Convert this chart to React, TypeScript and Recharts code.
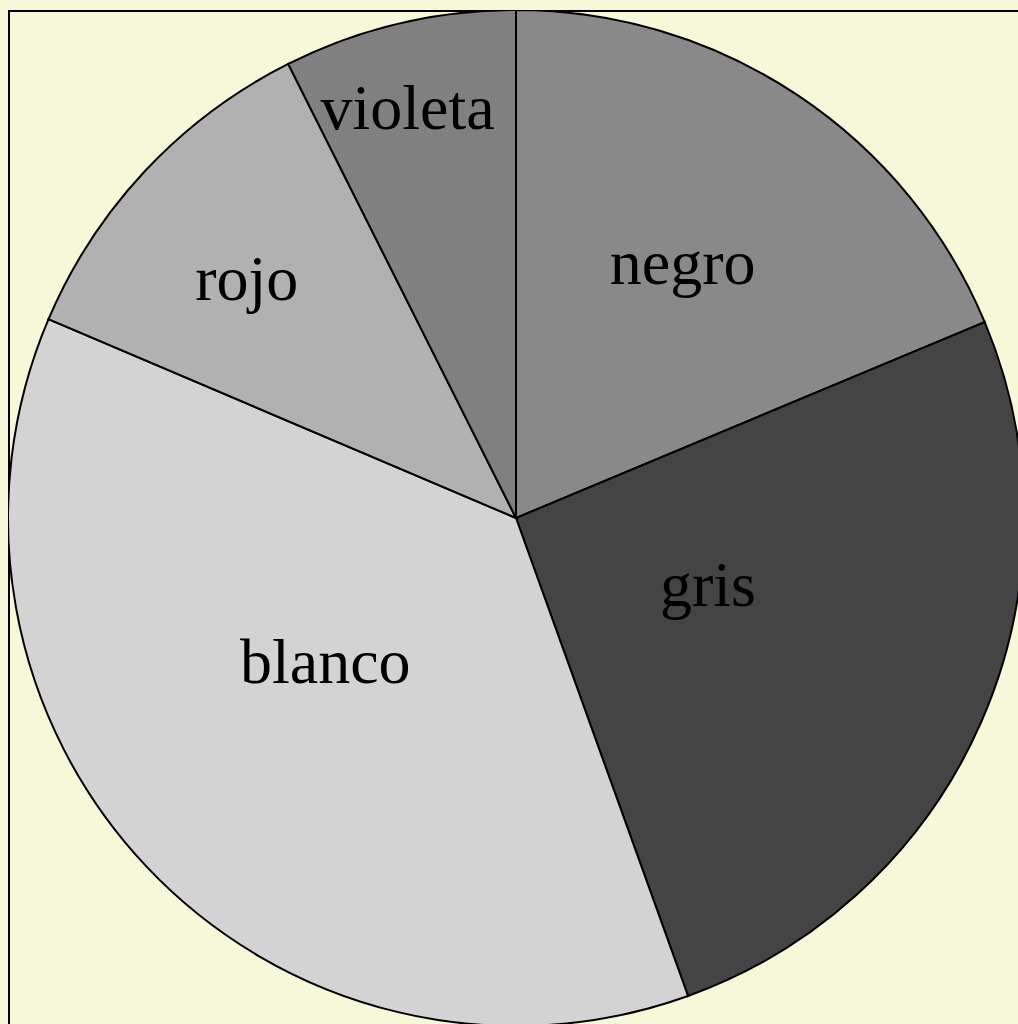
import React from 'react';
import { PieChart, Pie, Cell } from 'recharts';

const colorNames = ['negro', 'gris', 'blanco', 'rojo', 'violeta'];
const shares = [18.7, 25.8, 36.9, 11.2, 7.4];
const sliceColors = ['#898989', '#444444', '#d3d3d3', '#b1b1b1', '#808080'];

// label placement per slice: fraction of radius, angle nudge in degrees
const labelRadius = [0.6, 0.4, 0.47, 0.71, 0.835];
const labelNudge = [0.5, 4.6, -6.4, 1.5, 1.5];

const RADIAN = Math.PI / 180;

const renderLabel = (props: any) => {
  const { cx, cy, midAngle, outerRadius, index, name } = props;
  const r = outerRadius * labelRadius[index];
  const a = (midAngle + labelNudge[index]) * RADIAN;
  const x = cx + r * Math.cos(-a);
  const y = cy + r * Math.sin(-a);
  return (
    <text
      x={x}
      y={y}
      textAnchor="middle"
      dominantBaseline="central"
      fill="#000"
      fontFamily="'Liberation Serif', 'Times New Roman', serif"
      fontSize={64}
    >
      {name}
    </text>
  );
};

const App: React.FC = () => {
  const chartData = colorNames.map((name, i) => ({ name, value: shares[i] }));

  return (
    <div style={{ position: 'fixed', left: 0, top: 0, width: 1018, height: 1024, overflow: 'hidden', background: '#f7f7d9' }}>
      <div style={{ position: 'absolute', left: 8, top: 10, width: 1016, height: 1016, border: '2px solid #000', boxSizing: 'border-box' }} />
      <div style={{ position: 'absolute', left: 8, top: 10 }}>
        <PieChart width={1016} height={1016} margin={{ top: 0, right: 0, bottom: 0, left: 0 }}>
          <Pie
            data={chartData}
            dataKey="value"
            nameKey="name"
            cx={508}
            cy={508}
            outerRadius={508}
            startAngle={90}
            endAngle={-270}
            stroke="#000"
            strokeWidth={2}
            label={renderLabel}
            labelLine={false}
            isAnimationActive={false}
          >
            {chartData.map((d, i) => (
              <Cell key={d.name} fill={sliceColors[i]} />
            ))}
          </Pie>
        </PieChart>
      </div>
    </div>
  );
};

export default App;
